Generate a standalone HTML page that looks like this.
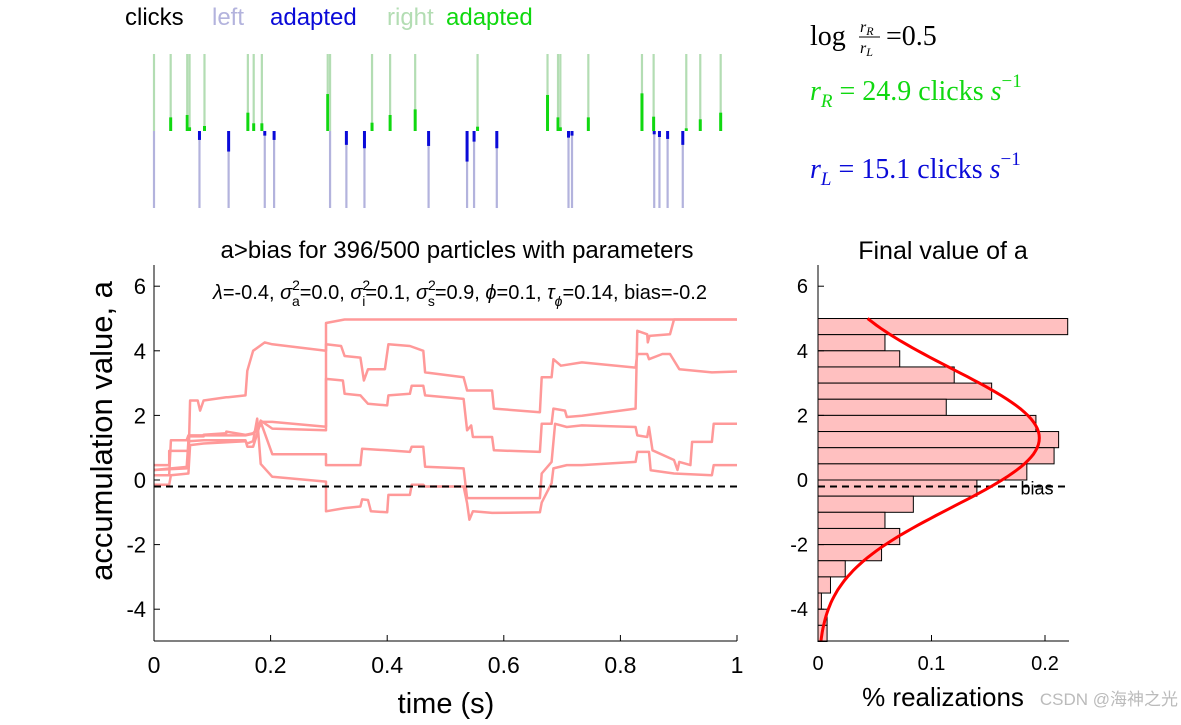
<!DOCTYPE html>
<html><head><meta charset="utf-8"><style>
body{margin:0;background:#fff;width:1181px;height:720px;overflow:hidden}
svg{font-family:"Liberation Sans",sans-serif}
.serif{font-family:"Liberation Serif",serif}
</style></head><body>
<svg id="fig" width="1181" height="720" viewBox="0 0 1181 720">
<g font-size="24">
<text x="125" y="25" fill="#000">clicks</text>
<text x="212" y="25" fill="#b3b3dd">left</text>
<text x="270" y="25" fill="#0a0ad8">adapted</text>
<text x="387" y="25" fill="#b3ddb3">right</text>
<text x="446" y="25" fill="#10d810">adapted</text>
</g>
<g class="serif" font-size="28">
<text x="810" y="45">log</text>
<text x="860" y="32" font-size="16" font-style="italic">r<tspan font-size="12" dy="3">R</tspan></text>
<line x1="859" y1="37" x2="880" y2="37" stroke="#000" stroke-width="1"/>
<text x="860" y="53" font-size="16" font-style="italic">r<tspan font-size="12" dy="3">L</tspan></text>
<text x="886" y="45">=0.5</text>
<text x="810" y="100" fill="#10d810"><tspan font-style="italic">r</tspan><tspan font-size="19" font-style="italic" dy="7">R</tspan><tspan dy="-7"> = 24.9 clicks </tspan><tspan font-style="italic">s</tspan><tspan font-size="19" dy="-13">−1</tspan></text>
<text x="810" y="178" fill="#0a0ad8"><tspan font-style="italic">r</tspan><tspan font-size="19" font-style="italic" dy="7">L</tspan><tspan dy="-7"> = 15.1 clicks </tspan><tspan font-style="italic">s</tspan><tspan font-size="19" dy="-13">−1</tspan></text>
</g>
<g id="clicks"></g>
<text x="457" y="258" text-anchor="middle" font-size="24">a&gt;bias for 396/500 particles with parameters</text>
<text x="460" y="299" text-anchor="middle" font-size="20"><tspan font-style="italic">λ</tspan>=-0.4, <tspan font-style="italic">σ</tspan><tspan font-size="14" dy="-9">2</tspan><tspan font-size="14" dx="-8" dy="16">a</tspan><tspan dy="-7">=0.0, </tspan><tspan font-style="italic">σ</tspan><tspan font-size="14" dy="-9">2</tspan><tspan font-size="14" dx="-8" dy="16">i</tspan><tspan dy="-7">=0.1, </tspan><tspan font-style="italic">σ</tspan><tspan font-size="14" dy="-9">2</tspan><tspan font-size="14" dx="-8" dy="16">s</tspan><tspan dy="-7">=0.9, </tspan><tspan font-style="italic">ϕ</tspan>=0.1, <tspan font-style="italic">τ</tspan><tspan font-size="14" font-style="italic" dy="7">ϕ</tspan><tspan dy="-7">=0.14, bias=-0.2</tspan></text>
<g id="main"></g>
<text x="943" y="259" text-anchor="middle" font-size="25">Final value of a</text>
<g id="hist"></g>
<text transform="translate(112,431) rotate(-90)" text-anchor="middle" font-size="31">accumulation value, a</text>
<text x="446" y="713" text-anchor="middle" font-size="29">time (s)</text>
<text x="943" y="706" text-anchor="middle" font-size="26">% realizations</text>
<text x="1178" y="705" text-anchor="end" font-size="17" fill="#bbb" font-family="Liberation Sans, Noto Sans CJK SC, sans-serif">CSDN @海神之光</text>
</svg>
<script>
const rightT=[0,0.0286,0.057,0.061,0.0866,0.161,0.171,0.185,0.298,0.302,0.374,0.405,0.448,0.555,0.675,0.693,0.697,0.745,0.837,0.857,0.913,0.937,0.972];
const rightAdapt=[0,0.177,0.208,0.048,0.065,0.238,0.1,0.1,0.48,0,0.108,0.208,0.281,0.056,0.468,0.177,0.048,0.177,0.489,0.186,0.035,0.152,0.238];
const leftT=[0,0.078,0.128,0.19,0.206,0.302,0.33,0.361,0.471,0.537,0.549,0.588,0.711,0.717,0.858,0.867,0.881,0.907];
const leftAdapt=[0,0.116,0.267,0.06,0.116,0,0.18,0.224,0.194,0.397,0.138,0.224,0.086,0.06,0.043,0.078,0.103,0.18];

const trT=[
[0,0.026,0.026,0.059,0.059,0.085,0.085,0.124,0.124,0.157,0.17,0.183,0.183,0.203,0.295,0.295,0.327,1.0],
[0,0.059,0.062,0.075,0.079,0.085,0.124,0.127,0.157,0.16,0.17,0.19,0.203,0.295,0.295,0.321,0.327,0.354,0.36,0.367,0.396,0.402,0.439,0.462,0.465,0.531,0.537,0.547,0.58,0.583,0.662,0.665,0.682,0.685,0.698,0.734,0.826,0.829,0.846,0.849,0.872,0.885,0.901,0.957,1.0],
[0,0.026,0.029,0.056,0.059,0.085,0.157,0.17,0.177,0.183,0.203,0.295,0.295,0.324,0.327,0.354,0.367,0.40,0.402,0.439,0.442,0.462,0.465,0.531,0.537,0.544,0.547,0.58,0.583,0.662,0.665,0.682,0.685,0.705,0.708,0.734,0.826,0.829,0.846,0.847,0.85,0.885,0.892,1.0],
[0,0.056,0.059,0.085,0.157,0.16,0.17,0.177,0.183,0.203,0.295,0.295,0.354,0.357,0.40,0.439,0.442,0.462,0.465,0.531,0.537,0.58,0.662,0.665,0.682,0.688,0.708,0.734,0.826,0.829,0.846,0.849,0.855,0.892,0.898,0.901,0.92,0.923,0.957,0.96,1.0],
[0,0.026,0.029,0.059,0.062,0.085,0.157,0.16,0.17,0.177,0.183,0.203,0.295,0.295,0.327,0.354,0.357,0.367,0.372,0.40,0.402,0.439,0.442,0.462,0.465,0.531,0.537,0.541,0.547,0.58,0.662,0.665,0.682,0.685,0.708,0.734,0.826,0.829,0.849,0.852,0.892,0.957,0.96,1.0]];
const trA=[
[0.46,0.46,0.9,0.9,1.35,1.35,1.4,1.45,1.5,1.4,1.45,1.7,1.8,1.8,1.65,4.86,4.97,4.97],
[0.31,0.41,2.46,2.46,2.15,2.46,2.56,2.56,2.62,3.38,4.0,4.26,4.2,4.0,4.2,4.15,3.84,3.79,3.08,3.43,3.43,4.2,4.15,4.0,3.33,3.18,2.77,2.77,2.77,2.21,2.1,3.18,3.18,3.74,3.54,3.64,3.48,3.9,3.9,3.74,3.9,3.9,3.43,3.33,3.36],
[0.15,0.15,1.23,1.23,1.38,1.38,1.38,1.43,1.54,1.84,1.59,1.54,3.13,3.08,2.67,2.62,2.36,2.31,2.62,2.67,2.92,2.92,2.62,2.51,1.54,1.69,1.33,1.33,0.92,0.87,1.74,1.74,2.21,2.15,1.95,1.99,2.21,4.62,4.51,4.26,4.46,4.51,4.97,4.97],
[0.31,0.36,1.2,1.23,1.23,1.03,1.03,1.43,1.8,0.8,0.8,0.46,0.46,0.97,0.92,0.87,1.03,1.03,0.41,0.36,-0.56,-0.56,-0.56,0.2,0.56,1.74,1.64,1.69,1.64,1.38,1.33,1.64,0.92,0.62,0.31,0.56,0.46,1.18,1.18,1.74,1.74],
[-0.15,-0.15,0.15,0.2,1.08,1.13,1.2,1.13,1.2,1.9,0.5,0.1,-0.05,-0.97,-0.87,-0.82,-0.6,-0.62,-0.97,-1.0,-0.46,-0.46,-0.15,-0.15,-0.2,-0.2,-0.72,-1.23,-0.97,-1.02,-1.0,-0.7,-0.1,0.36,0.46,0.46,0.56,0.87,0.87,0.3,0.2,0.15,0.46,0.46]];

const binCenters=[4.75,4.25,3.75,3.25,2.75,2.25,1.75,1.25,0.75,0.25,-0.25,-0.75,-1.25,-1.75,-2.25,-2.75,-3.25,-3.75,-4.25,-4.75];
const binFrac=[0.220,0.059,0.072,0.120,0.153,0.113,0.192,0.212,0.208,0.184,0.140,0.084,0.059,0.072,0.056,0.024,0.011,0.003,0.008,0.008];
const fitMean=1.3, fitSd=2.14, fitPeak=0.195;
const yTicks=[-4,-2,0,2,4,6];
const xTicks=[0,0.2,0.4,0.6,0.8,1];
const hxTicks=[0,0.1,0.2];
const bias=-0.2;

const NS='http://www.w3.org/2000/svg';
function mk(tag,attrs,parent){const e=document.createElementNS(NS,tag);for(const k in attrs)e.setAttribute(k,attrs[k]);parent.appendChild(e);return e;}
const X=t=>154+t*583;
const Y=a=>480-a*32.3;
const HX=v=>818+v*1135;
const CY=131, CLEN=77;

const clicks=document.getElementById('clicks');
rightT.forEach((t,i)=>{
  const l=mk('line',{x1:X(t),x2:X(t),y1:CY,y2:CY-CLEN,stroke:'#b3ddb3','stroke-width':2.2},clicks);
  
  
  if(rightAdapt[i]>0){const d=mk('line',{x1:X(t),x2:X(t),y1:CY,y2:CY-CLEN*rightAdapt[i],stroke:'#10d810','stroke-width':3},clicks);
  
  }
});
leftT.forEach((t,i)=>{
  const l=mk('line',{x1:X(t),x2:X(t),y1:CY,y2:CY+CLEN,stroke:'#b3b3dd','stroke-width':2.2},clicks);
  
  
  if(leftAdapt[i]>0){const d=mk('line',{x1:X(t),x2:X(t),y1:CY,y2:CY+CLEN*leftAdapt[i],stroke:'#0a0ad8','stroke-width':3},clicks);
  
  }
});

const main=document.getElementById('main');
trT.forEach((ts,k)=>{
  const pts=ts.map((t,i)=>X(t).toFixed(1)+','+Y(trA[k][i]).toFixed(1)).join(' ');
  const p=mk('polyline',{points:pts,fill:'none',stroke:'#ff9999','stroke-width':2.5,'stroke-linejoin':'round'},main);
  
  
});
const bl=mk('line',{x1:X(0),x2:X(1),y1:Y(bias),y2:Y(bias),stroke:'#000','stroke-width':2,'stroke-dasharray':'7,5'},main);


const ya=mk('line',{x1:154,x2:154,y1:265,y2:641,stroke:'#000','stroke-width':1},main);


const xa=mk('line',{x1:154,x2:737,y1:641,y2:641,stroke:'#000','stroke-width':1},main);


yTicks.forEach(v=>{
  mk('line',{x1:154,x2:160,y1:Y(v),y2:Y(v),stroke:'#000'},main);
  const t=mk('text',{x:146,y:Y(v)+8,'text-anchor':'end','font-size':22},main);t.textContent=v;
  
  
});
xTicks.forEach(v=>{
  mk('line',{x1:X(v),x2:X(v),y1:641,y2:635,stroke:'#000'},main);
  const t=mk('text',{x:X(v),y:673,'text-anchor':'middle','font-size':23},main);t.textContent=v;
  
  
});

const hist=document.getElementById('hist');
binCenters.forEach((c,i)=>{
  const r=mk('rect',{x:HX(0),y:Y(c+0.25),width:HX(binFrac[i])-HX(0),height:Y(c-0.25)-Y(c+0.25),fill:'#ffc0c0',stroke:'#000','stroke-width':1},hist);
  
  
});
const hb=mk('line',{x1:HX(0),x2:1069,y1:Y(bias),y2:Y(bias),stroke:'#000','stroke-width':2,'stroke-dasharray':'7,5'},hist);


const btx=mk('text',{x:1037,y:Y(bias)+8,'text-anchor':'middle','font-size':18},hist);btx.textContent='bias';


let cp=[];for(let a=-5;a<=5.001;a+=0.1){cp.push(HX(fitPeak*Math.exp(-Math.pow(a-fitMean,2)/(2*fitSd*fitSd))).toFixed(1)+','+Y(a).toFixed(1));}
const cu=mk('polyline',{points:cp.join(' '),fill:'none',stroke:'#ff0000','stroke-width':3},hist);


const hy=mk('line',{x1:818,x2:818,y1:265,y2:641,stroke:'#000'},hist);


const hx=mk('line',{x1:818,x2:1069,y1:641,y2:641,stroke:'#000'},hist);


yTicks.forEach(v=>{
  mk('line',{x1:818,x2:824,y1:Y(v),y2:Y(v),stroke:'#000'},hist);
  const t=mk('text',{x:808,y:Y(v)+7,'text-anchor':'end','font-size':20},hist);t.textContent=v;
  
  
});
hxTicks.forEach(v=>{
  mk('line',{x1:HX(v),x2:HX(v),y1:641,y2:635,stroke:'#000'},hist);
  const t=mk('text',{x:HX(v),y:670,'text-anchor':'middle','font-size':20},hist);t.textContent=v;
  
  
});
</script>
</body></html>
